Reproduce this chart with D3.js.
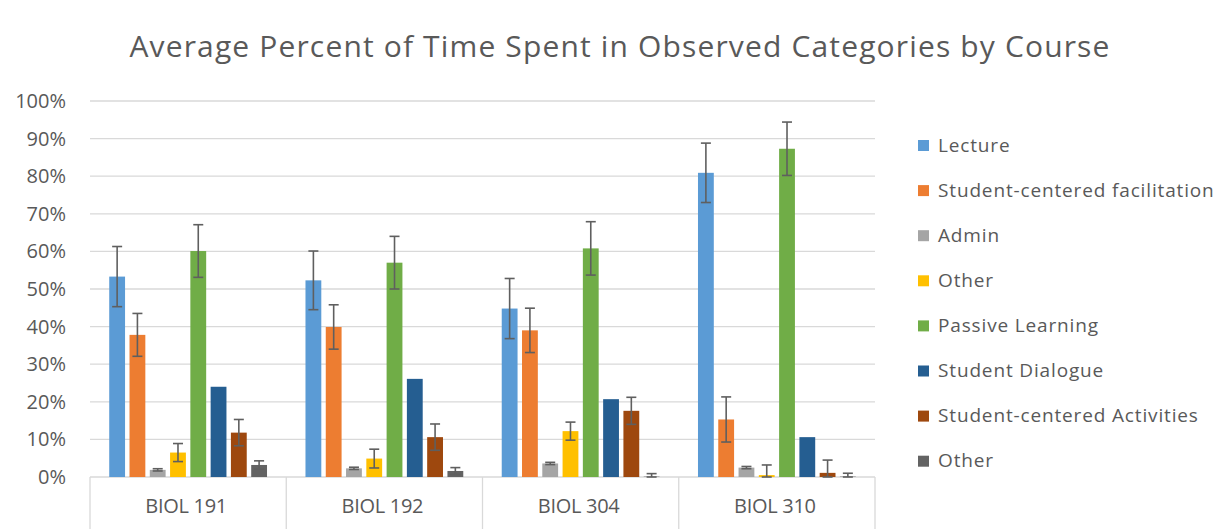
<!DOCTYPE html>
<html><head><meta charset="utf-8">
<script src="https://cdn.jsdelivr.net/npm/d3@7"></script>
<style>body{margin:0;background:#fff}svg{display:block}</style>
</head><body>
<svg id="c" width="1232" height="529"></svg>
<script>
const courses = ["BIOL 191","BIOL 192","BIOL 304","BIOL 310"];
const seriesNames = ["Lecture","Student-centered facilitation","Admin","Other","Passive Learning","Student Dialogue","Student-centered Activities","Other"];
const seriesColors = ["#5B9BD5","#ED7D31","#A5A5A5","#FFC000","#70AD47","#255E91","#9E480E","#636363"];
// values per series, per course (percent)
const lecture      = [53.3, 52.3, 44.8, 80.9];
const scFacil      = [37.8, 39.9, 39.0, 15.3];
const admin        = [1.9, 2.3, 3.6, 2.5];
const other1       = [6.5, 4.9, 12.2, 0.5];
const passive      = [60.1, 57.0, 60.8, 87.3];
const dialogue     = [24.0, 26.1, 20.7, 10.6];
const scActiv      = [11.8, 10.6, 17.6, 1.1];
const other2       = [3.2, 1.6, 0.1, 0.1];
// error (± percent), null = no error bar
const lectureErr   = [8.0, 7.8, 8.0, 7.9];
const scFacilErr   = [5.7, 5.9, 5.9, 6.0];
const adminErr     = [0.3, 0.3, 0.3, 0.3];
const other1Err    = [2.4, 2.5, 2.4, 2.7];
const passiveErr   = [7.0, 7.0, 7.1, 7.1];
const dialogueErr  = [null, null, null, null];
const scActivErr   = [3.5, 3.5, 3.6, 3.4];
const other2Err    = [1.1, 0.9, 0.8, 0.9];
const yTicks = [0,10,20,30,40,50,60,70,80,90,100];

const values = [lecture, scFacil, admin, other1, passive, dialogue, scActiv, other2];
const errors = [lectureErr, scFacilErr, adminErr, other1Err, passiveErr, dialogueErr, scActivErr, other2Err];

const svg = d3.select("#c");
const pL = 90, pR = 875, pT = 101, pB = 477;
const y = d3.scaleLinear().domain([0,100]).range([pB, pT]);
const x0 = d3.scaleBand().domain(courses).range([pL, pR]).paddingInner(0).paddingOuter(0);
const x1 = d3.scaleBand().domain(d3.range(seriesNames.length)).range([17, x0.bandwidth()-17]).paddingInner(0.22).paddingOuter(0.11);

const grid = "#D9D9D9", txt = "#595959";
const font = "'Open Sans', 'DejaVu Sans', sans-serif";

svg.append("text").attr("x", 620).attr("y", 57).attr("text-anchor","middle")
  .attr("font-family", font).attr("font-size", 30).attr("fill", txt).attr("letter-spacing", 1.15)
  .text("Average Percent of Time Spent in Observed Categories by Course");

// gridlines
svg.append("g").selectAll("line").data(yTicks.filter(d=>d>0)).join("line")
  .attr("x1", pL).attr("x2", pR).attr("y1", d=>y(d)).attr("y2", d=>y(d))
  .attr("stroke", grid).attr("stroke-width", 1.3);

// y labels
svg.append("g").selectAll("text").data(yTicks).join("text")
  .attr("x", 66).attr("y", d=>y(d)+7).attr("text-anchor","end")
  .attr("font-family", font).attr("font-size", 20).attr("fill", txt)
  .text(d=>d+"%");

// category axis
const ax = svg.append("g");
ax.append("line").attr("x1", pL).attr("x2", pR).attr("y1", pB).attr("y2", pB).attr("stroke", grid).attr("stroke-width",1.3);
const bounds = courses.map(c=>x0(c)).concat([pR]);
ax.selectAll("line.div").data(bounds).join("line").attr("class","div")
  .attr("x1", d=>d).attr("x2", d=>d).attr("y1", pB).attr("y2", 529)
  .attr("stroke", grid).attr("stroke-width",1.3);
ax.selectAll("text").data(courses).join("text")
  .attr("x", d=>x0(d)+x0.bandwidth()/2 - 2).attr("y", 513).attr("text-anchor","middle")
  .attr("font-family", font).attr("font-size", 20).attr("fill", txt).attr("letter-spacing", -0.3)
  .text(d=>d);

// bars
const groups = svg.append("g").selectAll("g").data(courses).join("g")
  .attr("transform", d=>`translate(${x0(d)},0)`);
groups.each(function(course, ci){
  const g = d3.select(this);
  seriesNames.forEach((s, si)=>{
    const v = values[si][ci];
    g.append("rect").attr("x", x1(si)).attr("width", x1.bandwidth())
      .attr("y", y(v)).attr("height", y(0)-y(v)).attr("fill", seriesColors[si]);
    const e = errors[si][ci];
    if (e != null) {
      const cx = x1(si) + x1.bandwidth()/2;
      const lo = Math.max(0, v - e), hi = v + e;
      g.append("line").attr("x1", cx).attr("x2", cx).attr("y1", y(lo)).attr("y2", y(hi))
        .attr("stroke", "#5F5F5F").attr("stroke-width", 1.6);
      [lo, hi].forEach(t=>{
        g.append("line").attr("x1", cx-5).attr("x2", cx+5).attr("y1", y(t)).attr("y2", y(t))
          .attr("stroke", "#5F5F5F").attr("stroke-width", 1.6);
      });
    }
  });
});

// legend
const leg = svg.append("g").selectAll("g").data(seriesNames).join("g")
  .attr("transform", (d,i)=>`translate(918, ${145.5 + i*45.1})`);
leg.append("rect").attr("x",0).attr("y",-5.5).attr("width",11).attr("height",11).attr("fill",(d,i)=>seriesColors[i]);
leg.append("text").attr("x",20).attr("y",6).attr("font-family", font).attr("font-size",19).attr("fill", txt)
  .attr("letter-spacing", 0.85).text(d=>d);
</script>
</body></html>
